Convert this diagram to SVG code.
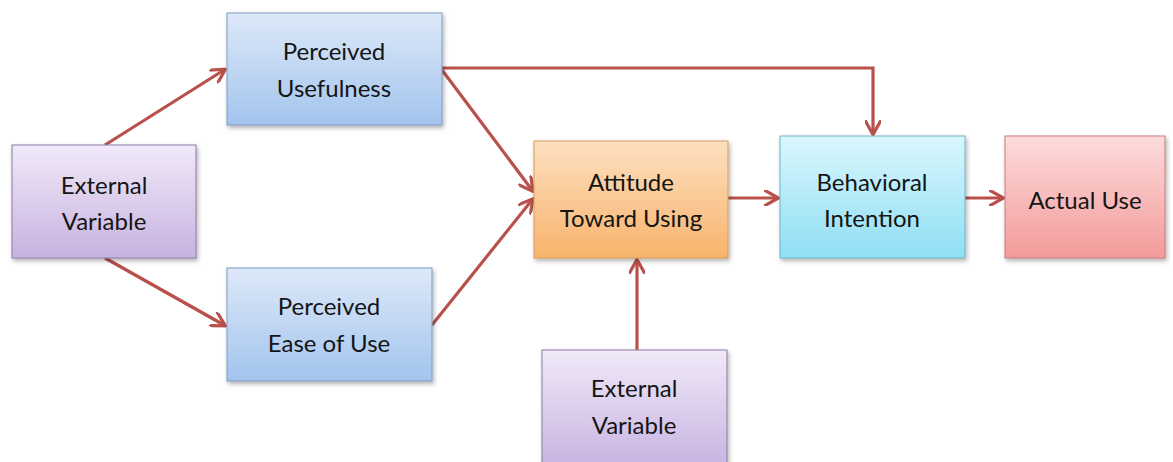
<svg xmlns="http://www.w3.org/2000/svg" width="1173" height="462" viewBox="0 0 1173 462">
<style>
.t{font-family:Lato,"Open Sans","Liberation Sans",sans-serif;font-size:24px;fill:#151515;text-anchor:middle}
.c{fill:none;stroke:#b9504b;stroke-width:3.2;marker-end:url(#ah)}
</style>
<defs>
<marker id="ah" viewBox="0 0 10 10" refX="8" refY="5" markerWidth="5" markerHeight="5" orient="auto" markerUnits="strokeWidth"><path d="M0,0 L9,5 L0,10" fill="none" stroke="#b9504b" stroke-width="2"/></marker>
<filter id="sh" x="-10%" y="-10%" width="125%" height="130%"><feDropShadow dx="1.5" dy="2.5" stdDeviation="2" flood-color="#000" flood-opacity="0.3"/></filter>
<linearGradient id="gb" x1="0" y1="0" x2="0" y2="1"><stop offset="0" stop-color="#dde9f8"/><stop offset="1" stop-color="#a3c4ee"/></linearGradient>
<linearGradient id="gp" x1="0" y1="0" x2="0" y2="1"><stop offset="0" stop-color="#f1e9f8"/><stop offset="1" stop-color="#c7b2e0"/></linearGradient>
<linearGradient id="go" x1="0" y1="0" x2="0" y2="1"><stop offset="0" stop-color="#fde0c0"/><stop offset="1" stop-color="#f8b36c"/></linearGradient>
<linearGradient id="gc" x1="0" y1="0" x2="0" y2="1"><stop offset="0" stop-color="#dbf6fd"/><stop offset="1" stop-color="#8edff4"/></linearGradient>
<linearGradient id="gr" x1="0" y1="0" x2="0" y2="1"><stop offset="0" stop-color="#fddcdc"/><stop offset="1" stop-color="#f39a9a"/></linearGradient>
</defs>
<g id="connectors">
<path class="c" d="M105,145 L224,70"/>
<path class="c" d="M105,258 L224,325"/>
<path class="c" d="M442,70 L532,190"/>
<path class="c" d="M432,325 L532,200"/>
<path class="c" d="M442,68 L873,68 L873,133"/>
<path class="c" d="M728,198 L777,198"/>
<path class="c" d="M965,198 L1002,198"/>
<path class="c" d="M637,350 L637,261"/>
</g>
<g id="ext1"><rect x="12" y="145" width="184" height="113" fill="url(#gp)" stroke="#8a7aa6" stroke-width="1" filter="url(#sh)"/><text class="t" x="104" y="194">External</text><text class="t" x="104" y="230">Variable</text></g>
<g id="pu"><rect x="227" y="13" width="215" height="112" fill="url(#gb)" stroke="#7c9bc4" stroke-width="1" filter="url(#sh)"/><text class="t" x="334" y="60">Perceived</text><text class="t" x="334" y="97">Usefulness</text></g>
<g id="peu"><rect x="227" y="268" width="205" height="113" fill="url(#gb)" stroke="#7c9bc4" stroke-width="1" filter="url(#sh)"/><text class="t" x="329" y="315">Perceived</text><text class="t" x="329" y="352">Ease of Use</text></g>
<g id="att"><rect x="534" y="141" width="194" height="117" fill="url(#go)" stroke="#d49a5e" stroke-width="1" filter="url(#sh)"/><text class="t" x="631" y="191">Attitude</text><text class="t" x="631" y="227">Toward Using</text></g>
<g id="bi"><rect x="780" y="136" width="185" height="122" fill="url(#gc)" stroke="#6fb3c6" stroke-width="1" filter="url(#sh)"/><text class="t" x="872" y="191">Behavioral</text><text class="t" x="872" y="227">Intention</text></g>
<g id="au"><rect x="1005" y="136" width="160" height="122" fill="url(#gr)" stroke="#c97a7a" stroke-width="1" filter="url(#sh)"/><text class="t" x="1085" y="209">Actual Use</text></g>
<g id="ext2"><rect x="542" y="350" width="185" height="120" fill="url(#gp)" stroke="#8a7aa6" stroke-width="1" filter="url(#sh)"/><text class="t" x="634" y="397">External</text><text class="t" x="634" y="434">Variable</text></g>
</svg>
